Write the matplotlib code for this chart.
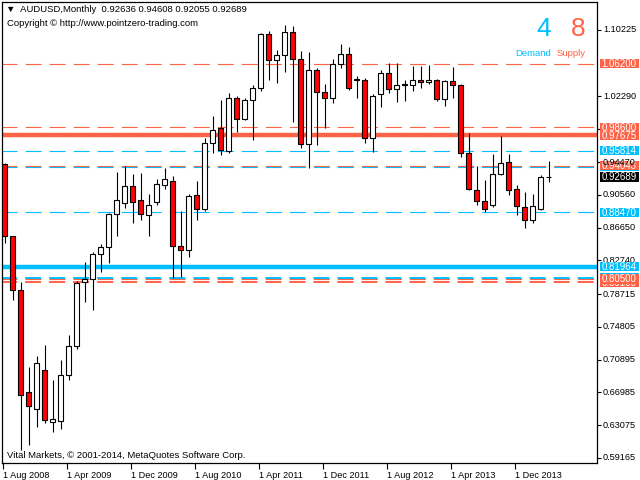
import matplotlib
matplotlib.use('Agg')
import matplotlib.pyplot as plt
import matplotlib.transforms as mtransforms
from matplotlib.patches import Rectangle
import pandas as pd

# AUDUSD monthly bars, Aug 2008 .. Apr 2014
opens = [0.942, 0.856, 0.792, 0.670, 0.650, 0.696, 0.635, 0.636, 0.690, 0.725,
         0.802, 0.805, 0.835, 0.843, 0.8826, 0.8955, 0.916, 0.899, 0.882, 0.897,
         0.917, 0.922, 0.845, 0.840, 0.905, 0.889, 0.967, 0.985, 0.958, 1.021,
         0.996, 1.019, 1.033, 1.0975, 1.067, 1.072, 1.0995, 1.068, 0.966, 1.054,
         1.028, 1.021, 1.062, 1.074, 1.0432, 1.043, 0.973, 1.0255, 1.051, 1.032,
         1.037, 1.037, 1.043, 1.040, 1.043, 1.020, 1.041, 1.037, 0.956, 0.911,
         0.898, 0.894, 0.931, 0.945, 0.912, 0.891, 0.876, 0.889, 0.92636]
highs = [0.943, 0.857, 0.802, 0.700, 0.713, 0.726, 0.685, 0.708, 0.738, 0.803,
         0.825, 0.837, 0.847, 0.884, 0.933, 0.940, 0.931, 0.932, 0.907, 0.925,
         0.938, 0.928, 0.886, 0.906, 0.922, 0.973, 1.000, 1.019, 1.027, 1.023,
         1.021, 1.037, 1.0985, 1.1014, 1.078, 1.108, 1.107, 1.077, 1.076, 1.057,
         1.038, 1.068, 1.085, 1.082, 1.047, 1.045, 1.026, 1.054, 1.063, 1.063,
         1.043, 1.059, 1.059, 1.061, 1.044, 1.042, 1.058, 1.038, 0.979, 0.940,
         0.923, 0.954, 0.976, 0.954, 0.917, 0.909, 0.907, 0.929, 0.94608]
lows = [0.848, 0.780, 0.601, 0.607, 0.628, 0.633, 0.623, 0.626, 0.684, 0.722,
        0.778, 0.768, 0.814, 0.824, 0.856, 0.890, 0.872, 0.876, 0.857, 0.893,
        0.913, 0.806, 0.807, 0.831, 0.876, 0.886, 0.955, 0.953, 0.955, 0.980,
        0.995, 0.971, 1.029, 1.043, 1.039, 1.052, 0.992, 0.962, 0.938, 0.965,
        0.985, 1.015, 1.057, 1.031, 1.021, 0.967, 0.957, 1.010, 1.027, 1.016,
        1.018, 1.029, 1.033, 1.038, 1.018, 1.011, 1.021, 0.951, 0.911, 0.893,
        0.885, 0.891, 0.929, 0.905, 0.882, 0.866, 0.872, 0.887, 0.92055]
closes = [0.857, 0.792, 0.667, 0.654, 0.705, 0.637, 0.638, 0.690, 0.725, 0.800,
          0.805, 0.835, 0.843, 0.8826, 0.899, 0.916, 0.897, 0.883, 0.894, 0.918,
          0.924, 0.845, 0.840, 0.904, 0.889, 0.967, 0.983, 0.959, 1.021, 0.996,
          1.019, 1.033, 1.0975, 1.067, 1.0724, 1.0995, 1.068, 0.966, 1.054, 1.028,
          1.021, 1.062, 1.074, 1.033, 1.0426, 0.973, 1.023, 1.051, 1.032, 1.037,
          1.0372, 1.043, 1.040, 1.042, 1.020, 1.041, 1.037, 0.956, 0.913, 0.898,
          0.889, 0.931, 0.944, 0.911, 0.892, 0.876, 0.892, 0.927, 0.92689]

months = pd.period_range('2008-08', periods=len(opens), freq='M')

# supply / demand levels
supply_levels = [1.06200, 0.98600, 0.94043, 0.80100, 0.80500]
supply_strong = [0.97675]
demand_levels = [0.95814, 0.93910, 0.88470, 0.80640]
demand_strong = [0.81964]
hidden_labels = [0.93910, 0.80640]   # covered by supply labels on the axis
last_price = 0.92689
demand_count = 4
supply_count = 8

y_ticks = [1.10225, 1.02290, 0.98380, 0.94470, 0.90560, 0.86650, 0.82740,
           0.78715, 0.74805, 0.70895, 0.66985, 0.63075, 0.59165]

SUP = '#FF6347'
DEM = '#00BFFF'
FONT = ['Liberation Sans', 'DejaVu Sans']
plt.rcParams['font.family'] = FONT
plt.rcParams['lines.scale_dashes'] = False

fig = plt.figure(figsize=(6.4, 4.8), dpi=100)
ax = fig.add_axes([2 / 640, 17 / 480, 595 / 640, 461 / 480])
ax.set_xlim(-0.3125, 74.06)
ax.set_ylim(0.58554, 1.13566)

# candles
x = list(range(len(opens)))
ax.vlines(x, lows, highs, color='black', linewidth=0.8, zorder=3)
bottoms = [min(o, c) for o, c in zip(opens, closes)]
heights = [max(abs(c - o), 0.0008) for o, c in zip(opens, closes)]
fills = ['white' if c >= o else '#FF0000' for o, c in zip(opens, closes)]
ax.bar(x, heights, bottom=bottoms, width=0.55, color=fills,
       edgecolor='black', linewidth=0.8, zorder=4)

# levels
dash = (11.5, 5.8)
for v in supply_levels:
    lw = 1.4 if v == 0.80100 else 0.8
    ax.axhline(v, color=SUP, linewidth=lw, linestyle=(0.7, dash), zorder=2)
for v in demand_levels:
    lw = 1.4 if v == 0.80640 else 0.8
    ax.axhline(v, color=DEM, linewidth=lw, linestyle=(0.7, dash), zorder=2)
for v in supply_strong:
    ax.axhline(v, color=SUP, linewidth=3.2, zorder=2)
for v in demand_strong:
    ax.axhline(v, color=DEM, linewidth=3.2, zorder=2)

# axes look
for s in ax.spines.values():
    s.set_linewidth(0.9)
ax.set_xticks([i - 0.19 for i in range(0, len(months), 8)])
ax.set_xticklabels(['1 ' + m.strftime('%b %Y') for m in months[::8]],
                   ha='left', fontsize=6.6)
ax.tick_params(axis='x', length=4, width=0.8, pad=1.5)
ax.yaxis.tick_right()
ax.set_yticks(y_ticks)
ax.set_yticklabels([])
ax.tick_params(axis='y', length=3, width=0.8)

trans = mtransforms.blended_transform_factory(ax.transAxes, ax.transData)
for v in y_ticks:
    z = 8 if v == 0.94470 else 3
    ax.text(6 / 595 + 1.0, v, f'{v:.5f}', transform=trans, ha='left',
            va='center', fontsize=6.6, clip_on=False, zorder=z)

bx0, bw, bh = 1.0 + 2.5 / 595, 39 / 595, 9.3 / 838


def price_box(v, color, z, label=True):
    ax.add_patch(Rectangle((bx0, v - bh / 2), bw, bh, transform=trans,
                           facecolor=color, edgecolor='none', clip_on=False,
                           zorder=z))
    if label:
        ax.text(bx0 + bw / 2, v - 0.0004, f'{v:.5f}', transform=trans,
                ha='center', va='center', color='white', fontsize=7,
                clip_on=False, zorder=z)


for v in demand_levels + demand_strong:
    price_box(v, DEM, 5, v not in hidden_labels)
for v in supply_levels[:3] + supply_strong + supply_levels[3:]:
    price_box(v, SUP, 6)
price_box(last_price, 'black', 7)

# header and notes
fig.text(6 / 640, 1 - 10 / 480, '\u25bc  AUDUSD,Monthly  0.92636 0.94608 0.92055 0.92689',
         fontsize=6.8, va='center', family=FONT)
fig.text(7 / 640, 1 - 24 / 480, 'Copyright \u00a9 http://www.pointzero-trading.com',
         fontsize=6.8, va='center')
fig.text(7 / 640, 1 - 455 / 480, 'Vital Markets, \u00a9 2001-2014, MetaQuotes Software Corp.',
         fontsize=6.8, va='center')

fig.text(543.5 / 640, 1 - 28.5 / 480, str(demand_count), color=DEM, fontsize=19,
         ha='center', va='center')
fig.text(578.5 / 640, 1 - 28.5 / 480, str(supply_count), color=SUP, fontsize=19,
         ha='center', va='center')
fig.text(533 / 640, 1 - 53.5 / 480, 'Demand', color=DEM, fontsize=6.8,
         ha='center', va='center')
fig.text(571 / 640, 1 - 53.5 / 480, 'Supply', color=SUP, fontsize=6.8,
         ha='center', va='center')

fig.savefig('out.png', dpi=100)
